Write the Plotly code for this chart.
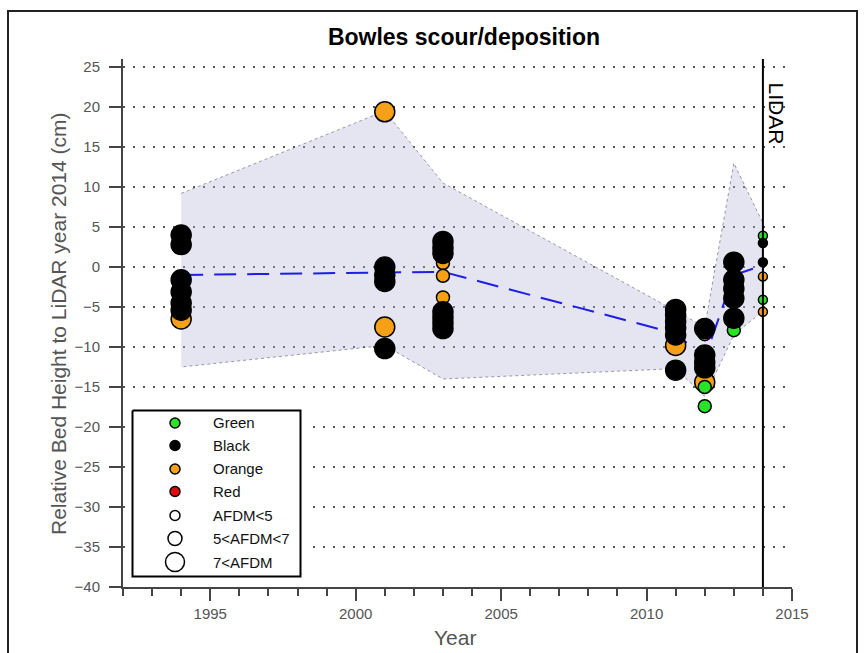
import plotly.graph_objects as go

# ---- data -------------------------------------------------------------
band_year = [1994, 2001, 2003, 2011, 2012, 2013, 2014]
band_upper = [9.2, 19.5, 10.5, -5.5, -7.5, 13.0, 5.5]
band_lower = [-12.5, -9.8, -14.0, -12.7, -16.2, -8.5, -5.5]
mean_height = [-1.0, -0.7, -0.6, -8.3, -11.4, -1.0, 0.2]

orange_year = [1994, 2001, 2001, 2003, 2003, 2003, 2011, 2012, 2014, 2014]
orange_height = [-6.5, 19.4, -7.5, 0.5, -1.1, -3.8, -9.8, -14.4, -1.2, -5.6]
orange_afdm = ["high", "high", "high", "mid", "mid", "mid", "high", "high", "low", "low"]

green_year = [2012, 2012, 2012, 2013, 2014, 2014]
green_height = [-8.4, -15.0, -17.4, -7.9, 3.9, -4.1]
green_afdm = ["mid", "mid", "mid", "mid", "low", "low"]

black_year = [1994, 1994, 1994, 1994, 1994, 1994,
              2001, 2001, 2001, 2001,
              2003, 2003, 2003, 2003, 2003, 2003, 2003,
              2011, 2011, 2011, 2011, 2011, 2011,
              2012, 2012, 2012, 2012,
              2013, 2013, 2013, 2013, 2013,
              2014, 2014]
black_height = [4.0, 2.8, -1.6, -3.1, -4.5, -5.4,
                0.0, -1.0, -1.8, -10.2,
                3.2, 2.4, 1.7, -5.6, -6.3, -7.0, -7.7,
                -5.3, -6.0, -6.8, -7.6, -8.5, -12.9,
                -7.7, -11.0, -11.9, -12.6,
                0.6, -1.6, -2.7, -3.9, -6.4,
                3.0, 0.6]
black_afdm = ["high"] * 32 + ["low", "low"]

lidar_year = 2014
x_ticks = [1995, 2000, 2005, 2010, 2015]
y_ticks = list(range(-40, 26, 5))

legend_labels = ["Green", "Black", "Orange", "Red", "AFDM<5", "5<AFDM<7", "7<AFDM"]

# ---- styling ----------------------------------------------------------
FONT = "Arial, 'Liberation Sans', sans-serif"
AXIS = "#444444"
LABEL = "#555555"
COLORS = {"green": "rgb(40,228,40)", "black": "black",
          "orange": "rgb(246,160,24)", "red": "rgb(228,8,8)"}
SIZE = {"low": 9, "mid": 13, "high": 20}

W, H = 864, 653
ML, MR, MT, MB = 123, 72, 59, 66
PW, PH = W - ML - MR, H - MT - MB


def px_x(px):
    return (px - ML) / PW


def px_y(py):
    return (H - MB - py) / PH


fig = go.Figure()

# spread band
fig.add_trace(go.Scatter(
    x=band_year + band_year[::-1],
    y=band_upper + band_lower[::-1],
    mode="lines", fill="toself",
    fillcolor="rgba(180,180,215,0.35)",
    line=dict(color="rgba(90,90,110,0.6)", width=1, dash="dot"),
    hoverinfo="skip", showlegend=False,
))

# mean bed height
fig.add_trace(go.Scatter(
    x=band_year, y=mean_height, mode="lines",
    line=dict(color="rgb(30,30,230)", width=2, dash="22px,11px"),
    showlegend=False,
))


def add_points(xs, ys, afdm, colour):
    fig.add_trace(go.Scatter(
        x=xs, y=ys, mode="markers", cliponaxis=False,
        marker=dict(size=[SIZE[a] for a in afdm], color=colour, opacity=1,
                    line=dict(color="black", width=1.5)),
        showlegend=False,
    ))


add_points(orange_year, orange_height, orange_afdm, COLORS["orange"])
add_points(green_year, green_height, green_afdm, COLORS["green"])
add_points(black_year, black_height, black_afdm, COLORS["black"])

# ---- key box (own pixel-scaled axes) ------------------------------------
box_l, box_r, box_t, box_b = 132.5, 300.5, 410.5, 576.5
key_x0, key_x1, key_y0, key_y1 = 126, 306, 404, 582
fig.add_trace(go.Scatter(
    x=[box_l, box_r, box_r, box_l, box_l],
    y=[box_t, box_t, box_b, box_b, box_t],
    mode="lines", fill="toself", fillcolor="white",
    line=dict(color="black", width=2),
    xaxis="x2", yaxis="y2", hoverinfo="skip", showlegend=False,
))
key_rows = [423, 445.5, 469, 491.5, 515.5, 538.5, 562]
key_fill = [COLORS["green"], COLORS["black"], COLORS["orange"], COLORS["red"],
            "white", "white", "white"]
key_size = [10, 10, 10, 10, 10, 14, 19]
fig.add_trace(go.Scatter(
    x=[175] * len(key_rows), y=key_rows, mode="markers",
    marker=dict(size=key_size, color=key_fill, opacity=1,
                line=dict(color="black", width=1.5)),
    xaxis="x2", yaxis="y2", hoverinfo="skip", showlegend=False,
))

annotations = []
for label, yy in zip(legend_labels, key_rows):
    annotations.append(dict(
        x=211, y=yy, xref="x2", yref="y2", text=label, showarrow=False,
        xanchor="left", yanchor="middle",
        font=dict(family=FONT, size=15, color="#111111"),
    ))

annotations += [
    dict(x=px_x(58), y=px_y(324), xref="paper", yref="paper",
         text="Relative Bed Height to LiDAR year 2014 (cm)",
         textangle=-90, showarrow=False, xanchor="center", yanchor="middle",
         font=dict(family=FONT, size=21, color=LABEL)),
    dict(x=px_x(455), y=px_y(637), xref="paper", yref="paper",
         text="Year", showarrow=False, xanchor="center", yanchor="middle",
         font=dict(family=FONT, size=21, color=LABEL)),
    dict(x=lidar_year, y=19.2, xref="x", yref="y", xshift=14,
         text="LIDAR", textangle=90, showarrow=False,
         xanchor="center", yanchor="middle",
         font=dict(family=FONT, size=21, color="black")),
]

shapes = [
    dict(type="line", xref="x", yref="y", x0=lidar_year, x1=lidar_year,
         y0=-40, y1=26, line=dict(color="black", width=2), layer="above"),
    dict(type="rect", xref="paper", yref="paper",
         x0=px_x(8), x1=px_x(857), y0=px_y(720), y1=px_y(11),
         line=dict(color="#222222", width=2), fillcolor="rgba(0,0,0,0)",
         layer="above"),
]

fig.update_layout(
    width=W, height=H,
    margin=dict(l=ML, r=MR, t=MT, b=MB),
    paper_bgcolor="white", plot_bgcolor="white",
    font=dict(family=FONT),
    title=dict(text="<b>Bowles scour/deposition</b>", xref="paper",
               x=px_x(464), xanchor="center", y=1 - 37 / H, yanchor="middle",
               font=dict(family=FONT, size=23, color="black")),
    xaxis=dict(range=[1992, 2015], tickvals=x_ticks, ticks="outside",
               ticklen=12, tickwidth=1.5, tickcolor=AXIS,
               minor=dict(dtick=1, tick0=1992, ticks="outside", ticklen=7,
                          tickwidth=1.5, tickcolor=AXIS, showgrid=False),
               showline=True, linecolor=AXIS, linewidth=2,
               showgrid=False, zeroline=False,
               tickfont=dict(family=FONT, size=15, color=LABEL)),
    yaxis=dict(range=[-40, 26], tickvals=y_ticks, ticks="outside",
               ticklen=12, tickwidth=1.5, tickcolor=AXIS,
               showline=True, linecolor=AXIS, linewidth=2,
               showgrid=True, gridcolor="#555555", gridwidth=2,
               griddash="2px,8px", zeroline=False, ticklabelstandoff=6,
               tickfont=dict(family=FONT, size=15, color=LABEL)),
    xaxis2=dict(domain=[px_x(key_x0), px_x(key_x1)], range=[key_x0, key_x1],
                anchor="y2", visible=False, fixedrange=True),
    yaxis2=dict(domain=[px_y(key_y1), px_y(key_y0)], range=[key_y1, key_y0],
                anchor="x2", visible=False, fixedrange=True),
    annotations=annotations,
    shapes=shapes,
)

fig.write_html("out.html")
